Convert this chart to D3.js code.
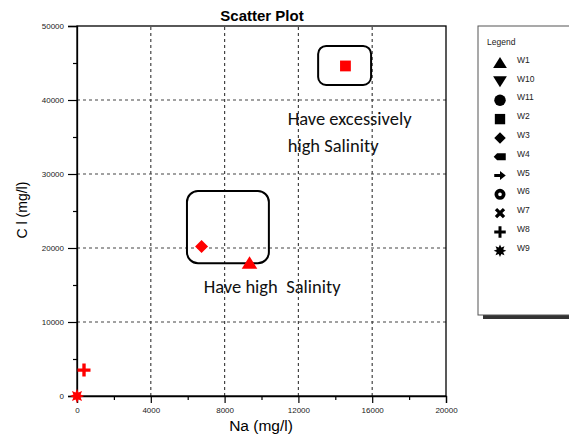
<!DOCTYPE html>
<html>
<head>
<meta charset="utf-8">
<script src="https://cdn.jsdelivr.net/npm/d3@7"></script>
<style>
  body { margin: 0; background: #fff; }
  svg { font-family: Arial, "Liberation Sans", sans-serif; }
</style>
</head>
<body>
<svg id="chart" width="569" height="443"></svg>
<script>
// well samples; null = not plotted
const wells = ["W1", "W10", "W11", "W2", "W3", "W4", "W5", "W6", "W7", "W8", "W9"];
const naValues = [9350, null, null, 14550, 6750, null, null, null, null, 380, 0];
const clValues = [18000, null, null, 44600, 20200, null, null, null, null, 3500, 0];
const xTicks = [0, 4000, 8000, 12000, 16000, 20000];
const yTicks = [0, 10000, 20000, 30000, 40000, 50000];

// annotation boxes in data units: [x0, x1, y0, y1]
const boxes = [[13070, 15940, 42030, 47300], [5960, 10400, 17950, 27700]];
const notes = [
  { lines: ["Have excessively", "high Salinity"], x: 11420, y: 36600 },
  { lines: ["Have high  Salinity"], x: 6870, y: 13900 }
];

const margin = { top: 26, right: 123, bottom: 47, left: 77 };
const width = 569, height = 443;

const svg = d3.select("#chart");

const x = d3.scaleLinear().domain([0, 20000]).range([margin.left, width - margin.right]);
const y = d3.scaleLinear().domain([0, 50000]).range([height - margin.bottom, margin.top]);

// symbol paths, drawn around (0,0)
const circle = (r0, r1) => d3.arc()({ innerRadius: r0, outerRadius: r1, startAngle: 0, endAngle: 2 * Math.PI });
const star = (n, r0, r1) => d3.range(n * 2).map(i => {
  const a = i * Math.PI / n - Math.PI / 2, r = i % 2 ? r0 : r1;
  return (i ? "L" : "M") + (r * Math.cos(a)) + "," + (r * Math.sin(a));
}).join("") + "Z";
const shapes = {
  W1: s => `M0,${-s * 0.5}L${s * 0.6},${s * 0.45}L${-s * 0.6},${s * 0.45}Z`,
  W10: s => `M0,${s * 0.5}L${s * 0.6},${-s * 0.45}L${-s * 0.6},${-s * 0.45}Z`,
  W11: s => circle(0, s * 0.5),
  W2: s => `M${-s * 0.45},${-s * 0.45}h${s * 0.9}v${s * 0.9}h${-s * 0.9}Z`,
  W3: s => `M0,${-s * 0.5}L${s * 0.5},0L0,${s * 0.5}L${-s * 0.5},0Z`,
  W4: s => `M${-s * 0.55},0L${-s * 0.25},${-s * 0.3}H${s * 0.5}V${s * 0.3}H${-s * 0.25}Z`,
  W5: s => `M${-s * 0.5},${-s * 0.13}H0V${-s * 0.4}L${s * 0.5},0L0,${s * 0.4}V${s * 0.13}H${-s * 0.5}Z`,
  W6: s => circle(s * 0.16, s * 0.48),
  W7: s => {
    const a = s * 0.45, t = s * 0.2;
    return `M${-a},${-a + t}L${-a + t},${-a}L0,${-t}L${a - t},${-a}L${a},${-a + t}L${t},0L${a},${a - t}L${a - t},${a}L0,${t}L${-a + t},${a}L${-a},${a - t}L${-t},0Z`;
  },
  W8: s => {
    const a = s * 0.5, t = s * 0.13;
    return `M${-t},${-a}H${t}V${-t}H${a}V${t}H${t}V${a}H${-t}V${t}H${-a}V${-t}H${-t}Z`;
  },
  W9: s => star(8, s * 0.3, s * 0.55)
};

// gridlines
svg.append("g").attr("class", "x-grid")
  .selectAll("line")
  .data(xTicks.slice(1, -1))
  .join("line")
  .attr("x1", x).attr("x2", x)
  .attr("y1", y(0)).attr("y2", y(50000))
  .attr("stroke", "#444")
  .attr("stroke-width", 1.2)
  .attr("stroke-dasharray", "3,3");

svg.append("g").attr("class", "y-grid")
  .selectAll("line")
  .data(yTicks.slice(1, -1))
  .join("line")
  .attr("y1", y).attr("y2", y)
  .attr("x1", x(0)).attr("x2", x(20000))
  .attr("stroke", "#444")
  .attr("stroke-width", 1.2)
  .attr("stroke-dasharray", "3,3");

// frame
svg.append("rect")
  .attr("x", x(0)).attr("y", y(50000))
  .attr("width", x(20000) - x(0)).attr("height", y(0) - y(50000))
  .attr("fill", "none").attr("stroke", "#000").attr("stroke-width", 1.3);

// axes
const fmt = d3.format("d");
svg.append("g")
  .attr("transform", `translate(0,${y(0)})`)
  .call(d3.axisBottom(x).tickValues(xTicks).tickSize(7).tickPadding(4).tickFormat(fmt));
svg.append("g")
  .attr("transform", `translate(0,${y(0)})`)
  .call(d3.axisBottom(x).tickValues(d3.range(2000, 20000, 4000)).tickSize(4).tickFormat(""))
  .call(g => g.select(".domain").remove());

svg.append("g")
  .attr("transform", `translate(${x(0)},0)`)
  .call(d3.axisLeft(y).tickValues(yTicks).tickSize(9).tickPadding(4).tickFormat(fmt));
svg.append("g")
  .attr("transform", `translate(${x(0)},0)`)
  .call(d3.axisLeft(y).tickValues(d3.range(5000, 50000, 10000)).tickSize(4).tickFormat(""))
  .call(g => g.select(".domain").remove());

svg.selectAll(".domain").attr("stroke-width", 1.3);
svg.selectAll(".tick line").attr("stroke-width", 1.2);
svg.selectAll(".tick text")
  .attr("font-size", 8)
  .attr("font-family", "Arial, sans-serif")
  .attr("fill", "#222");

// title and axis labels
svg.append("text")
  .attr("x", 262).attr("y", 21)
  .attr("text-anchor", "middle")
  .attr("font-size", 15).attr("font-weight", "bold")
  .text("Scatter Plot");

svg.append("text")
  .attr("x", 261).attr("y", 431)
  .attr("text-anchor", "middle")
  .attr("font-size", 15.5)
  .text("Na (mg/l)");

svg.append("text")
  .attr("transform", `translate(27,210) rotate(-90)`)
  .attr("text-anchor", "middle")
  .attr("font-size", 14)
  .text("C l (mg/l)");

// annotation boxes
svg.append("g").selectAll("rect")
  .data(boxes)
  .join("rect")
  .attr("x", d => x(d[0])).attr("y", d => y(d[3]))
  .attr("width", d => x(d[1]) - x(d[0]))
  .attr("height", d => y(d[2]) - y(d[3]))
  .attr("rx", (d, i) => i ? 11 : 8)
  .attr("fill", "none").attr("stroke", "#000").attr("stroke-width", 2);

// points
const points = wells.map((w, i) => ({ well: w, na: naValues[i], cl: clValues[i] }))
  .filter(d => d.na !== null);
svg.append("g").selectAll("path")
  .data(points)
  .join("path")
  .attr("transform", d => `translate(${x(d.na)},${y(d.cl)})`)
  .attr("d", d => shapes[d.well](d.well === "W2" ? 12 : 13))
  .attr("fill", "#ff0000");

// notes
svg.append("g").selectAll("text")
  .data(notes)
  .join("text")
  .attr("x", d => x(d.x)).attr("y", d => y(d.y))
  .attr("font-family", "Carlito, 'Open Sans', sans-serif")
  .attr("font-size", 18.5)
  .attr("fill", "#111")
  .style("white-space", "pre")
  .selectAll("tspan")
  .data(d => d.lines.map(l => ({ l, x: d.x })))
  .join("tspan")
  .attr("x", d => x(d.x))
  .attr("dy", (d, i) => i ? 27 : 0)
  .text(d => d.l);

// legend
const legend = svg.append("g").attr("transform", "translate(478,26)");
legend.append("rect")
  .attr("x", 5).attr("y", 3).attr("width", 120).attr("height", 290)
  .attr("fill", "#333");
legend.append("rect")
  .attr("x", 0).attr("y", 0).attr("width", 120).attr("height", 289)
  .attr("fill", "#fff").attr("stroke", "#555").attr("stroke-width", 1);
legend.append("text")
  .attr("x", 9).attr("y", 19)
  .attr("font-size", 8.5).attr("fill", "#222")
  .text("Legend");

const item = legend.selectAll(".item")
  .data(wells)
  .join("g")
  .attr("class", "item")
  .attr("transform", (d, i) => `translate(22,${36.7 + i * 18.8})`);
item.append("path")
  .attr("d", d => shapes[d](11.5))
  .attr("fill", "#000");
item.append("text")
  .attr("x", 17).attr("y", 0)
  .attr("font-size", 8.5).attr("fill", "#222")
  .text(d => d);
</script>
</body>
</html>
